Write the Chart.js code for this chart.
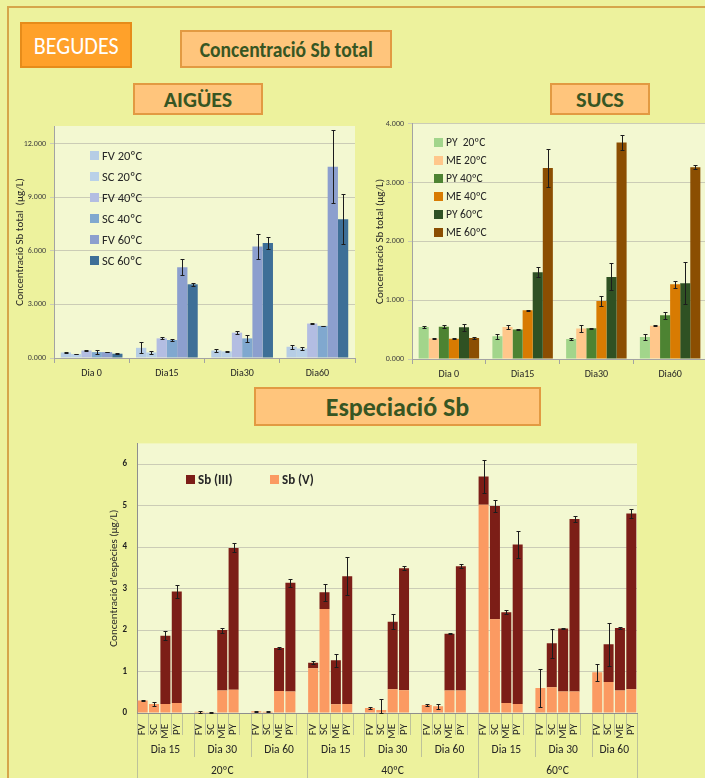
<!DOCTYPE html>
<html>
<head>
<meta charset="utf-8">
<script src="https://cdn.jsdelivr.net/npm/chart.js@4.4.1/dist/chart.umd.min.js"></script>
<style>
  html, body { margin: 0; padding: 0; width: 705px; height: 778px; overflow: hidden; background: #EDF29D; font-family: Carlito, Lato, "Open Sans", sans-serif; }
  #frame { position: absolute; left: 7px; top: 6px; width: 720px; height: 800px; border-left: 2px solid #D6A64B; border-top: 2px solid #D6A64B; }
  .box { position: absolute; box-sizing: border-box; display: flex; align-items: center; justify-content: center; white-space: nowrap; }
  .box span { display: inline-block; }
  .head { background: #FFC57C; border: 2px solid #E29A42; color: #375623; font-weight: bold; }
  #begudes { left: 20px; top: 22px; width: 112px; height: 46px; background: #FFA12A; border: 2px solid #E68C1A; color: #fff; font-size: 24px; font-weight: 300; }
  #begudes span { transform: scaleX(0.92); }
  #hTotal { left: 180px; top: 30px; width: 212px; height: 38px; font-size: 22px; }
  #hTotal span { transform: scaleX(0.89); }
  #hAig { left: 133px; top: 83px; width: 130px; height: 32px; font-size: 22px; }
  #hSucs { left: 550px; top: 83px; width: 100px; height: 32px; font-size: 22.5px; }
  #hEsp { left: 254px; top: 387px; width: 287px; height: 39px; font-size: 26px; }
  canvas { position: absolute; }
  #cAig { left: 0; top: 115px; }
  #cSucs { left: 360px; top: 115px; }
  #cEsp { left: 95px; top: 428px; }
  .legend { position: absolute; color: #262626; }
  .legend .it { position: absolute; left: 0; display: flex; align-items: center; white-space: pre; }
  .legend .sw { display: inline-block; width: 9px; height: 9px; margin-right: 3px; }
</style>
</head>
<body>
<div id="frame"></div>
<div class="box" id="begudes"><span>BEGUDES</span></div>
<div class="box head" id="hTotal"><span>Concentració Sb total</span></div>
<div class="box head" id="hAig"><span>AIGÜES</span></div>
<div class="box head" id="hSucs"><span>SUCS</span></div>
<div class="box head" id="hEsp"><span>Especiació Sb</span></div>

<canvas id="cAig" width="360" height="265"></canvas>
<canvas id="cSucs" width="348" height="265"></canvas>
<canvas id="cEsp" width="610" height="350"></canvas>

<div class="legend" id="lAig" style="left:90px;top:148px;font-size:12.5px;"></div>
<div class="legend" id="lSucs" style="left:434px;top:135px;font-size:11.5px;"></div>
<div class="legend" id="lEsp" style="left:186px;top:472px;font-size:13px;font-weight:bold;"></div>

<script>
// ---- Aigües: total Sb (µg/L) per sampling day ----
const aigDies = ['Dia 0', 'Dia15', 'Dia30', 'Dia60'];
const aigFV20 = [0.31, 0.57, 0.42, 0.63];
const aigSC20 = [0.22, 0.31, 0.37, 0.53];
const aigFV40 = [0.42, 1.10, 1.42, 1.93];
const aigSC40 = [0.33, 1.01, 1.10, 1.80];
const aigFV60 = [0.33, 5.08, 6.25, 10.72];
const aigSC60 = [0.24, 4.13, 6.45, 7.78];
const aigFV20Err = [0.02, 0.30, 0.10, 0.10];
const aigSC20Err = [0.02, 0.07, 0.02, 0.10];
const aigFV40Err = [0.02, 0.05, 0.08, 0.03];
const aigSC40Err = [0.12, 0.08, 0.20, 0.02];
const aigFV60Err = [0.02, 0.45, 0.70, 2.05];
const aigSC60Err = [0.03, 0.10, 0.33, 1.40];

// ---- Sucs: total Sb (µg/L) per sampling day ----
const sucsDies = ['Dia 0', 'Dia15', 'Dia30', 'Dia60'];
const sucsPY20 = [0.543, 0.385, 0.340, 0.375];
const sucsME20 = [0.350, 0.543, 0.518, 0.566];
const sucsPY40 = [0.550, 0.500, 0.522, 0.742];
const sucsME40 = [0.345, 0.830, 0.988, 1.272];
const sucsPY60 = [0.540, 1.477, 1.395, 1.287];
const sucsME60 = [0.357, 3.250, 3.680, 3.262];
const sucsPY20Err = [0.01, 0.04, 0.02, 0.05];
const sucsME20Err = [0.005, 0.03, 0.06, 0.01];
const sucsPY40Err = [0.03, 0.005, 0.005, 0.06];
const sucsME40Err = [0.01, 0.01, 0.09, 0.06];
const sucsPY60Err = [0.06, 0.08, 0.23, 0.36];
const sucsME60Err = [0.02, 0.32, 0.13, 0.03];

// ---- Especiació: Sb(V) + Sb(III) per temperature / day / sample ----
const espTemps = ['20ºC', '40ºC', '60ºC'];
const espDies = ['Dia 15', 'Dia 30', 'Dia 60'];
const espMostres = ['FV', 'SC', 'ME', 'PY'];
// order: 20ºC D15, D30, D60 | 40ºC D15, D30, D60 | 60ºC D15, D30, D60 ; each FV, SC, ME, PY
const espSbV = [
  0.30, 0.22, 0.22, 0.24,   0.03, 0.02, 0.54, 0.56,   0.04, 0.03, 0.53, 0.52,
  1.08, 2.51, 0.21, 0.22,   0.12, 0.07, 0.57, 0.55,   0.19, 0.16, 0.54, 0.54,
  5.02, 2.26, 0.24, 0.22,   0.60, 0.62, 0.52, 0.52,   0.98, 0.75, 0.54, 0.57
];
const espSbIII = [
  0.00, 0.00, 1.64, 2.69,   0.00, 0.00, 1.46, 3.42,   0.00, 0.00, 1.04, 2.62,
  0.13, 0.40, 1.06, 3.08,   0.00, 0.00, 1.63, 2.94,   0.00, 0.00, 1.37, 3.00,
  0.68, 2.73, 2.19, 3.84,   0.00, 1.06, 1.52, 4.16,   0.00, 0.91, 1.51, 4.24
];
const espErr = [
  0.02, 0.05, 0.11, 0.15,   0.03, 0.01, 0.06, 0.11,   0.02, 0.01, 0.03, 0.10,
  0.04, 0.20, 0.15, 0.46,   0.03, 0.26, 0.18, 0.05,   0.03, 0.06, 0.01, 0.05,
  0.40, 0.14, 0.05, 0.32,   0.45, 0.35, 0.01, 0.08,   0.20, 0.52, 0.03, 0.12
];

Chart.defaults.font.family = 'Carlito, Lato, "Open Sans", sans-serif';
Chart.defaults.color = '#262626';

// Fills the plotting area with a lighter tone
const plotBg = {
  id: 'plotBg',
  beforeDraw(chart, args, opts) {
    const { ctx, chartArea: a } = chart;
    ctx.save();
    ctx.fillStyle = opts.color || '#F3F8D1';
    ctx.fillRect(a.left, a.top, a.right - a.left, a.bottom - a.top);
    ctx.restore();
  }
};

// Draws ± error bars on top of the (stacked) bar totals
const errorBars = {
  id: 'errorBars',
  afterDatasetsDraw(chart) {
    const { ctx, chartArea: a } = chart;
    const y = chart.scales.y;
    const stacked = !!chart.options.scales.y.stacked;
    ctx.save();
    ctx.beginPath();
    ctx.rect(a.left, a.top, a.right - a.left, a.bottom - a.top + 1);
    ctx.clip();
    ctx.strokeStyle = '#1c1c1c';
    ctx.lineWidth = 1;
    chart.data.datasets.forEach((ds, di) => {
      if (!ds.errors) return;
      const meta = chart.getDatasetMeta(di);
      meta.data.forEach((bar, i) => {
        const e = ds.errors[i];
        if (e == null || ds.data[i] == null) return;
        let total = ds.data[i];
        if (stacked) {
          total = chart.data.datasets.reduce((s, d) => s + (d.data[i] || 0), 0);
        }
        const yHi = Math.round(y.getPixelForValue(total + e)) + 0.5;
        const yLo = Math.round(y.getPixelForValue(Math.max(total - e, 0))) + 0.5;
        const x = Math.round(bar.x) + 0.5;
        ctx.beginPath();
        ctx.moveTo(x, yHi); ctx.lineTo(x, yLo);
        ctx.moveTo(x - 2, yHi); ctx.lineTo(x + 2, yHi);
        ctx.moveTo(x - 2, yLo); ctx.lineTo(x + 2, yLo);
        ctx.stroke();
      });
    });
    ctx.restore();
  }
};

function totalsOptions(yMax, yWidth, xHeight, pad, yTitle) {
  return {
    responsive: false,
    animation: false,
    devicePixelRatio: 1,
    layout: { padding: pad },
    datasets: { bar: { categoryPercentage: 0.82, barPercentage: 1.0 } },
    plugins: { legend: { display: false }, tooltip: { enabled: false }, plotBg: { color: '#F3F8D1' } },
    scales: {
      x: {
        grid: { offset: true, drawOnChartArea: false, tickLength: 5, color: '#A3A3A3' },
        border: { color: '#A3A3A3' },
        ticks: { font: { size: 10 }, color: '#262626', padding: 4 },
        afterFit: s => { s.height = xHeight; }
      },
      y: {
        min: 0, max: yMax,
        grid: { color: '#CBCCB6', tickLength: 4, drawTicks: true },
        border: { color: '#A3A3A3' },
        ticks: { stepSize: yMax > 6 ? 3 : 1, font: { size: 8 }, color: '#404040', padding: 4,
                 callback: v => Number(v).toFixed(3) },
        afterBuildTicks: s => { const st = yMax > 6 ? 3 : 1; s.ticks = s.ticks.filter(t => t.value % st === 0); },
        afterFit: s => { s.width = yWidth; },
        title: { display: true, text: yTitle, font: { size: 11 }, color: '#262626', padding: { top: 14, bottom: 0 } }
      }
    }
  };
}

new Chart(document.getElementById('cAig'), {
  type: 'bar',
  data: {
    labels: aigDies,
    datasets: [
      { label: 'FV 20ºC', data: aigFV20, errors: aigFV20Err, backgroundColor: '#B6CDE5' },
      { label: 'SC 20ºC', data: aigSC20, errors: aigSC20Err, backgroundColor: '#B9D1E8' },
      { label: 'FV 40ºC', data: aigFV40, errors: aigFV40Err, backgroundColor: '#B3BDE2' },
      { label: 'SC 40ºC', data: aigSC40, errors: aigSC40Err, backgroundColor: '#80A8CF' },
      { label: 'FV 60ºC', data: aigFV60, errors: aigFV60Err, backgroundColor: '#8C9FCE' },
      { label: 'SC 60ºC', data: aigSC60, errors: aigSC60Err, backgroundColor: '#3E6F97' }
    ]
  },
  options: totalsOptions(13, 54, 22, { left: 0, right: 5, top: 11, bottom: 0 }, 'Concentració Sb total  (µg/L)'),
  plugins: [plotBg, errorBars]
});

new Chart(document.getElementById('cSucs'), {
  type: 'bar',
  data: {
    labels: sucsDies,
    datasets: [
      { label: 'PY  20ºC', data: sucsPY20, errors: sucsPY20Err, backgroundColor: '#A2D58B' },
      { label: 'ME 20ºC', data: sucsME20, errors: sucsME20Err, backgroundColor: '#FFC78B' },
      { label: 'PY 40ºC', data: sucsPY40, errors: sucsPY40Err, backgroundColor: '#4D8332' },
      { label: 'ME 40ºC', data: sucsME40, errors: sucsME40Err, backgroundColor: '#D87B02' },
      { label: 'PY 60ºC', data: sucsPY60, errors: sucsPY60Err, backgroundColor: '#2F5123' },
      { label: 'ME 60ºC', data: sucsME60, errors: sucsME60Err, backgroundColor: '#8B4E02' }
    ]
  },
  options: totalsOptions(4, 52, 21, { left: 0, right: 1, top: 8, bottom: 0 }, 'Concentració Sb total (µg/L)'),
  plugins: [plotBg, errorBars]
});

// ---- category labels for the speciation chart ----
const espLabels = [];
const espDayGroups = [];   // {start, end, text}
const espTempGroups = [];  // {start, end, text}
espTemps.forEach((t, ti) => {
  const tStart = espLabels.length;
  espDies.forEach((d, di) => {
    const dStart = espLabels.length;
    espMostres.forEach(m => espLabels.push(m));
    const last = ti === espTemps.length - 1 && di === espDies.length - 1;
    if (!last) espLabels.push('');
    espDayGroups.push({ start: dStart, end: espLabels.length, text: d });
  });
  espTempGroups.push({ start: tStart, end: espLabels.length, text: t });
});
function spread(arr) {
  const out = [];
  let k = 0;
  espLabels.forEach(l => out.push(l === '' ? null : arr[k++]));
  return out;
}

// Multi-level category table under the speciation x axis
const catTable = {
  id: 'catTable',
  afterDraw(chart) {
    const { ctx } = chart;
    const x = chart.scales.x;
    const base = chart.chartArea.bottom;
    const bottom = chart.height;
    const step = x.getPixelForValue(1) - x.getPixelForValue(0);
    const edge = i => x.getPixelForValue(0) - step / 2 + i * step;
    const dayEdges = new Set(espDayGroups.flatMap(g => [g.start, g.end]));
    const tempEdges = new Set(espTempGroups.flatMap(g => [g.start, g.end]));
    ctx.save();
    ctx.strokeStyle = '#BDC29A';
    ctx.lineWidth = 1;
    for (let i = 0; i <= espLabels.length; i++) {
      const px = Math.round(edge(i)) + 0.5;
      let end = base + 22;
      if (dayEdges.has(i)) end = base + 44;
      if (tempEdges.has(i)) end = bottom;
      ctx.beginPath();
      ctx.moveTo(px, base + 1);
      ctx.lineTo(px, end);
      ctx.stroke();
    }
    ctx.fillStyle = '#262626';
    ctx.textAlign = 'center';
    ctx.textBaseline = 'middle';
    ctx.font = '11.5px ' + Chart.defaults.font.family;
    espDayGroups.forEach(g => ctx.fillText(g.text, (edge(g.start) + edge(g.end)) / 2, base + 37));
    espTempGroups.forEach(g => ctx.fillText(g.text, (edge(g.start) + edge(g.end)) / 2, base + 58));
    ctx.restore();
  }
};

new Chart(document.getElementById('cEsp'), {
  type: 'bar',
  data: {
    labels: espLabels,
    datasets: [
      { label: 'Sb (V)', data: spread(espSbV), backgroundColor: '#FB9A62' },
      { label: 'Sb (III)', data: spread(espSbIII), errors: spread(espErr), backgroundColor: '#7C1E17' }
    ]
  },
  options: {
    responsive: false,
    animation: false,
    devicePixelRatio: 1,
    layout: { padding: { left: 0, right: 68, top: 4, bottom: 0 } },
    datasets: { bar: { categoryPercentage: 1.0, barPercentage: 0.88 } },
    plugins: { legend: { display: false }, tooltip: { enabled: false }, plotBg: { color: '#F3F8D1' } },
    scales: {
      x: {
        stacked: true,
        grid: { display: false },
        border: { display: true, color: '#8E8E8E' },
        ticks: { autoSkip: false, minRotation: 90, maxRotation: 90, font: { size: 11 }, color: '#262626', padding: 3 },
        afterFit: s => { s.height = 65; }
      },
      y: {
        stacked: true,
        min: 0, max: 6.5,
        grid: { color: '#CBCCB6', drawTicks: false },
        border: { color: '#8E8E8E' },
        ticks: { stepSize: 1, font: { size: 9, weight: 'bold' }, color: '#1f1f1f', padding: 10 },
        afterBuildTicks: s => { s.ticks = s.ticks.filter(t => Number.isInteger(t.value)); },
        afterFit: s => { s.width = 42; },
        title: { display: true, text: "Concentració d'espècies (µg/L)", font: { size: 11 }, color: '#262626', padding: { top: 13, bottom: 0 } }
      }
    }
  },
  plugins: [plotBg, errorBars, catTable]
});

// ---- HTML legends ----
function buildLegend(id, items, offsets, horizontal) {
  const el = document.getElementById(id);
  items.forEach((it, i) => {
    const d = document.createElement('div');
    d.className = 'it';
    if (horizontal) { d.style.left = offsets[i] + 'px'; d.style.top = '0px'; }
    else { d.style.top = offsets[i] + 'px'; }
    const sw = document.createElement('span');
    sw.className = 'sw';
    sw.style.background = it.color;
    d.appendChild(sw);
    d.appendChild(document.createTextNode(it.text));
    el.appendChild(d);
  });
}
buildLegend('lAig', [
  { text: 'FV 20ºC', color: '#B6CDE5' }, { text: 'SC 20ºC', color: '#B9D1E8' },
  { text: 'FV 40ºC', color: '#B3BDE2' }, { text: 'SC 40ºC', color: '#80A8CF' },
  { text: 'FV 60ºC', color: '#8C9FCE' }, { text: 'SC 60ºC', color: '#3E6F97' }
], [0, 21, 42, 63, 84, 105]);
buildLegend('lSucs', [
  { text: 'PY  20ºC', color: '#A2D58B' }, { text: 'ME 20ºC', color: '#FFC78B' },
  { text: 'PY 40ºC', color: '#4D8332' }, { text: 'ME 40ºC', color: '#D87B02' },
  { text: 'PY 60ºC', color: '#2F5123' }, { text: 'ME 60ºC', color: '#8B4E02' }
], [0, 18, 36, 54, 72, 90]);
buildLegend('lEsp', [
  { text: 'Sb (III)', color: '#7C1E17' }, { text: 'Sb (V)', color: '#FB9A62' }
], [0, 84], true);
</script>
</body>
</html>
